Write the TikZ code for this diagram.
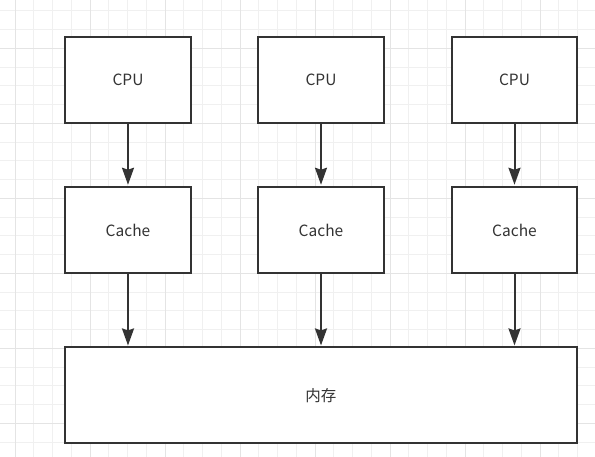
\documentclass[tikz,border=0pt]{standalone}
\usepackage{fontspec}
\setmainfont{Noto Sans CJK SC}
\usetikzlibrary{arrows.meta}
\definecolor{boxline}{HTML}{333333}
\definecolor{gridminor}{HTML}{F0F0F0}
\definecolor{gridmajor}{HTML}{E4E4E4}
\tikzset{
  unit/.style={draw=boxline, line width=2pt, fill=white, text=boxline,
    minimum width=125.5pt, minimum height=86.5pt, inner sep=0pt,
    font=\fontsize{15.5pt}{18pt}\selectfont},
  link/.style={draw=boxline, line width=2pt,
    -{Stealth[length=17pt,width=12pt,inset=2pt]}, shorten >=1pt},
  minor/.style={draw=gridminor, line width=1pt},
  major/.style={draw=gridmajor, line width=1pt}
}
\begin{document}
\begin{tikzpicture}[x=1pt,y=-1pt]
  \useasboundingbox (0,0) rectangle (595,457);
  \fill[white] (0,0) rectangle (595,457);
  % grid
  \foreach \i in {0,...,31} {
    \draw[minor] ({15+18.75*\i},0) -- ({15+18.75*\i},457);
  }
  \foreach \i in {0,...,24} {
    \draw[minor] (0,{10.8+18.75*\i}) -- (595,{10.8+18.75*\i});
  }
  \foreach \i in {0,...,7} {
    \draw[major] ({15+75*\i},0) -- ({15+75*\i},457);
  }
  \foreach \i in {0,...,5} {
    \draw[major] (0,{48.3+75*\i}) -- (595,{48.3+75*\i});
  }
  % boxes
  \node[unit] (cpua) at (128,80) {CPU};
  \node[unit] (cpub) at (321,80) {CPU};
  \node[unit] (cpuc) at (514.5,80) {CPU};
  \node[unit] (cachea) at (128,230) {Cache};
  \node[unit] (cacheb) at (321,230) {Cache};
  \node[unit] (cachec) at (514.5,230) {Cache};
  \node[unit, minimum width=511.5pt, minimum height=95.5pt] (mem) at (320.75,395.2) {内存};
  % arrows
  \foreach \n in {a,b,c} {
    \draw[link] (cpu\n.south) -- (cache\n.north);
    \draw[link] (cache\n.south) -- (cache\n.south |- mem.north);
  }
\end{tikzpicture}
\end{document}
